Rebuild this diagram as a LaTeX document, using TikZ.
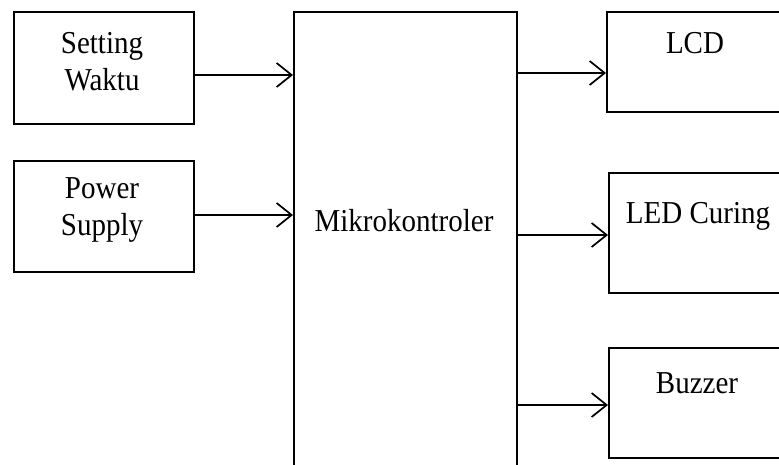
\documentclass[tikz,border=0pt]{standalone}
\usepackage{fontspec}
\usepackage{graphicx}
\setmainfont{Liberation Serif}
\usetikzlibrary{arrows.meta}
\newcommand{\vstretch}[1]{\scalebox{1}[1.1]{#1}}
\begin{document}
\begin{tikzpicture}[x=1pt,y=-1pt,
  box/.style={draw, line width=1.7pt, rectangle, inner sep=0pt, anchor=north west},
  lbl/.style={font=\fontsize{29}{37}\selectfont, inner sep=0pt, align=center, anchor=base},
  conn/.style={line width=1.7pt, -{Straight Barb[length=15pt,width=24pt,line width=1.7pt]}}]
\useasboundingbox (0,0) rectangle (779,464);
% boxes
\node[box, minimum width=180pt, minimum height=112pt] (sw) at (13,11) {};
\node[box, minimum width=180pt, minimum height=111pt] (ps) at (13,160) {};
\node[box, minimum width=223pt, minimum height=480pt] (mk) at (293,11) {};
\node[box, minimum width=190pt, minimum height=100pt] (lcd) at (606,11) {};
\node[box, minimum width=190pt, minimum height=120pt] (led) at (608,172) {};
\node[box, minimum width=190pt, minimum height=110pt] (bz) at (608,347) {};
% labels
\node[lbl] (swt) at (102,90) {\vstretch{Setting}\\\vstretch{Waktu}};
\node[lbl] (pst) at (102,235) {\vstretch{Power}\\\vstretch{Supply}};
\node[lbl] (mkt) at (404,231) {\vstretch{Mikrokontroler}};
\node[lbl] (lcdt) at (695,53) {\vstretch{LCD}};
\node[lbl] (ledt) at (698,223) {\vstretch{LED Curing}};
\node[lbl] (bzt) at (697,393) {\vstretch{Buzzer}};
% connectors
\draw[conn] (sw.east |- 0,75) -- (mk.west |- 0,75);
\draw[conn] (ps.east |- 0,215) -- (mk.west |- 0,215);
\draw[conn] (mk.east |- 0,73) -- (lcd.west |- 0,73);
\draw[conn] (mk.east |- 0,235) -- (led.west |- 0,235);
\draw[conn] (mk.east |- 0,405) -- (bz.west |- 0,405);
\end{tikzpicture}
\end{document}
